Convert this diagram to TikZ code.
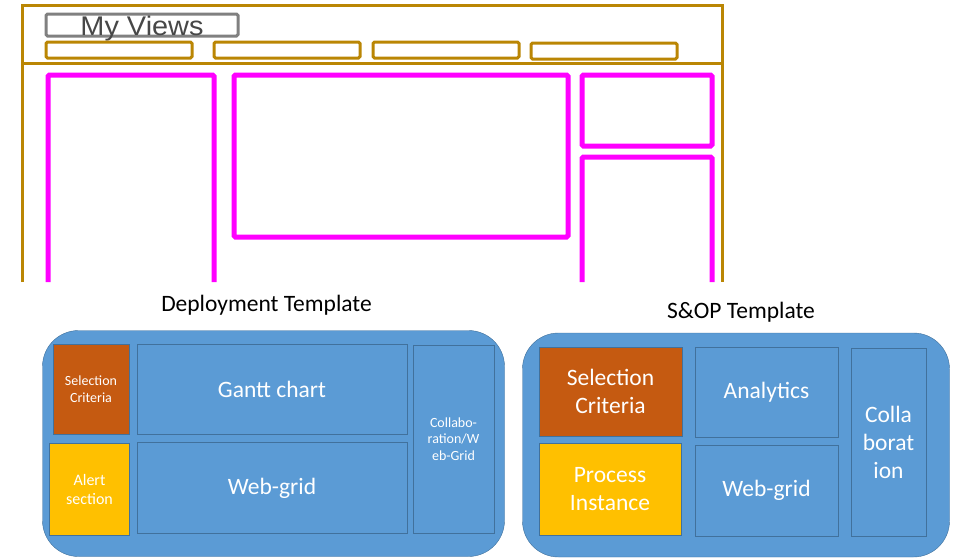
\documentclass[tikz,border=0pt]{standalone}
\usepackage{fontspec}
\setmainfont{Carlito}
\newfontfamily\arialfont{Liberation Sans}
\definecolor{gold}{RGB}{186,134,4}
\definecolor{pink}{RGB}{255,0,255}
\definecolor{tileblue}{RGB}{91,155,213}
\definecolor{edgeblue}{RGB}{65,113,156}
\definecolor{rust}{RGB}{197,90,17}
\definecolor{amber}{RGB}{255,192,0}

\begin{document}
\begin{tikzpicture}[x=1pt,y=-1pt,
        frame/.style={draw=gold,line width=3pt},
        pane/.style={draw=pink,line width=5pt,rounded corners=1.5pt},
        tile/.style={draw=edgeblue,line width=0.8pt,fill=tileblue,text=white,align=center,inner sep=0pt},
        small/.style={font=\fontsize{14}{16.5}\selectfont},
        big/.style={font=\fontsize{23.5}{28}\selectfont}]
        \useasboundingbox (0,0) rectangle (954,558);
        % my views wireframe
        \draw[frame] (22,282) -- (22,5) -- (722,5) -- (722,282);
        \draw[frame] (22,63) -- (722,63);
        \draw[gray,line width=3pt,rounded corners=1.5pt] (46,14) rectangle (238,36);
        \node[anchor=base,text=black!72,font=\arialfont\fontsize{27}{30}\selectfont,inner sep=0pt,xscale=1.07] (views) at (142,35) {My Views};
        \draw[frame,rounded corners=1.5pt] (46,42) rectangle (192,58);
        \draw[frame,rounded corners=1.5pt] (214,42) rectangle (360,58);
        \draw[frame,rounded corners=1.5pt] (373,42) rectangle (519,58);
        \draw[frame,rounded corners=1.5pt] (531,43) rectangle (677,59);
        \draw[pane] (48,282) -- (48,75) -- (214,75) -- (214,282);
        \draw[pane] (234,75) rectangle (568,237);
        \draw[pane] (582,75) rectangle (712,146);
        \draw[pane] (582,282) -- (582,157) -- (712,157) -- (712,282);
        % deployment template
        \node[anchor=base,big,inner sep=0pt] (deployTitle) at (266.5,311) {Deployment Template};
        \node[draw=edgeblue,fill=tileblue,rounded corners=36pt,minimum width=462,minimum height=226] (deploy) at (273.5,443.5) {};
        \node[tile,fill=rust,small,minimum width=76,minimum height=90] (selA) at (91,389) {Selection\\Criteria};
        \node[tile,fill=amber,font=\fontsize{16}{19}\selectfont,minimum width=80,minimum height=92] (alert) at (89.5,489) {Alert\\section};
        \node[tile,big,minimum width=270,minimum height=90] (gantt) at (272,389) {Gantt chart};
        \node[tile,big,minimum width=270,minimum height=91] (gridA) at (272,488) {Web-grid};
        \node[tile,small,minimum width=81,minimum height=188] (collabA) at (453.5,439) {Collabo-\\ration/W\\eb-Grid};
        % s&op template
        \node[anchor=base,big,inner sep=0pt] (sopTitle) at (741,318) {S\&OP Template};
        \node[draw=edgeblue,fill=tileblue,rounded corners=36pt,minimum width=427,minimum height=224] (sop) at (736,445) {};
        \node[tile,fill=rust,big,minimum width=143,minimum height=89] (selB) at (610.5,391.5) {Selection\\Criteria};
        \node[tile,fill=amber,big,minimum width=142,minimum height=92] (process) at (610,489) {Process\\Instance};
        \node[tile,big,minimum width=143,minimum height=90] (analytics) at (766.5,392) {Analytics};
        \node[tile,big,minimum width=143,minimum height=91] (gridB) at (766.5,490.5) {Web-grid};
        \node[tile,big,minimum width=75,minimum height=188] (collabB) at (888.5,442) {Colla\\borat\\ion};
\end{tikzpicture}
\end{document}
